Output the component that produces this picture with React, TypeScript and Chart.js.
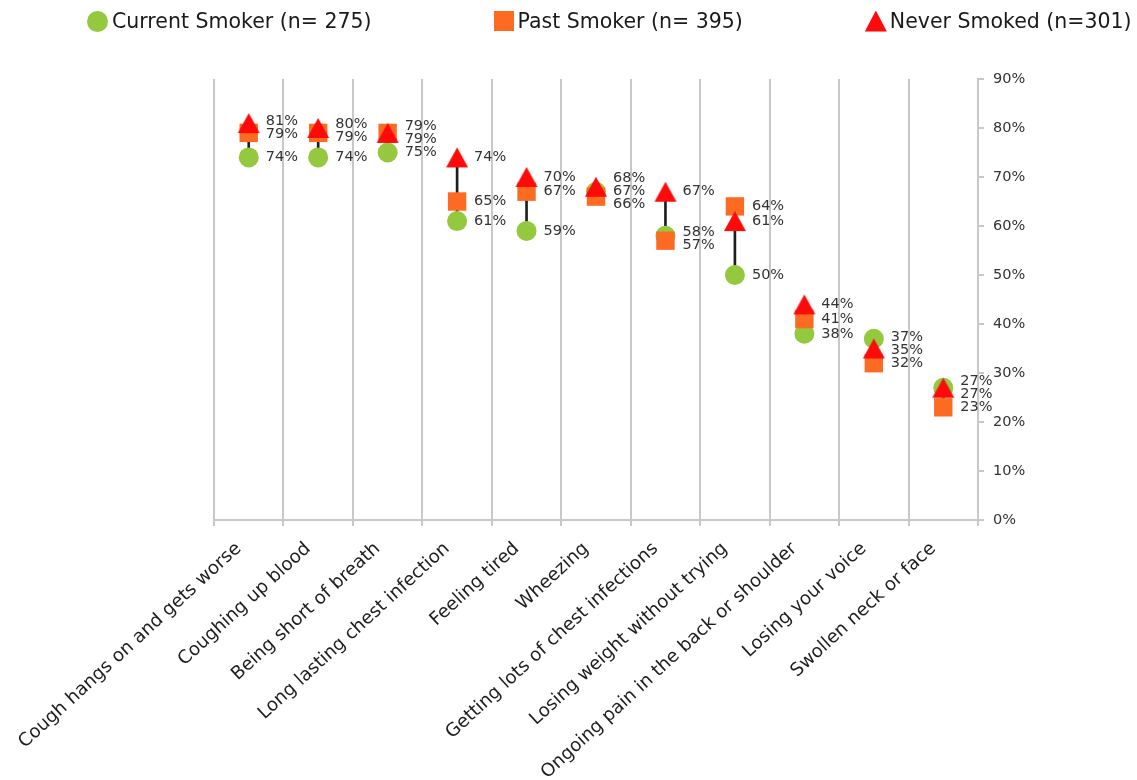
import React, { useEffect, useRef } from "react";
import { Chart, registerables } from "chart.js";

Chart.register(...registerables);

const categories = [
  "Cough hangs on and gets worse",
  "Coughing up blood",
  "Being short of breath",
  "Long lasting chest infection",
  "Feeling tired",
  "Wheezing",
  "Getting lots of chest infections",
  "Losing weight without trying",
  "Ongoing pain in the back or shoulder",
  "Losing your voice",
  "Swollen neck or face",
];

const currentSmoker = [74, 74, 75, 61, 59, 67, 58, 50, 38, 37, 27];
const pastSmoker = [79, 79, 79, 65, 67, 66, 57, 64, 41, 32, 23];
const neverSmoked = [81, 80, 79, 74, 70, 68, 67, 61, 44, 35, 27];

const seriesNames = ["Current Smoker (n= 275)", "Past Smoker (n= 395)", "Never Smoked (n=301)"];

const yMin = 0;
const yMax = 90;
const yStep = 10;

const GREEN = "#93c83f";
const ORANGE = "#fd6a22";
const RED = "#ff0a0a";
const GRID = "#c8c8c8";
const FONT = "DejaVu Sans";

function makeTriangle(color: string) {
  const c = document.createElement("canvas");
  c.width = 24;
  c.height = 22;
  const g = c.getContext("2d")!;
  g.fillStyle = color;
  g.beginPath();
  g.moveTo(12, 1);
  g.lineTo(23, 21);
  g.lineTo(1, 21);
  g.closePath();
  g.fill();
  return c;
}

const pointLabels = {
  id: "pointLabels",
  afterDatasetsDraw(chart: any) {
    const ctx = chart.ctx;
    const dsIdx = [1, 2, 3];
    const MIN = 13;
    ctx.save();
    ctx.font = `14.5px "${FONT}"`;
    ctx.fillStyle = "#333333";
    ctx.textAlign = "left";
    ctx.textBaseline = "middle";
    for (let i = 0; i < chart.data.labels.length; i++) {
      const items = dsIdx.map((d) => {
        const el = chart.getDatasetMeta(d).data[i];
        return { x: el.x, y: el.y, text: chart.data.datasets[d].data[i] + "%" };
      });
      items.sort((a, b) => a.y - b.y);
      const ys = items.map((it) => it.y);
      for (let iter = 0; iter < 60; iter++) {
        for (let k = 0; k < ys.length - 1; k++) {
          const gap = ys[k + 1] - ys[k];
          if (gap < MIN) {
            const dd = (MIN - gap) / 2;
            ys[k] -= dd;
            ys[k + 1] += dd;
          }
        }
      }
      items.forEach((it, k) => ctx.fillText(it.text, it.x + 17, ys[k]));
    }
    ctx.restore();
  },
};

export default function App() {
  const ref = useRef<HTMLCanvasElement | null>(null);

  useEffect(() => {
    if (!ref.current) return;
    const ranges = categories.map((_, i) => {
      const vals = [currentSmoker[i], pastSmoker[i], neverSmoked[i]];
      return [Math.min(...vals), Math.max(...vals)];
    });
    const chart = new Chart(ref.current, {
      type: "line",
      data: {
        labels: categories,
        datasets: [
          {
            type: "bar",
            label: "range",
            data: ranges as any,
            backgroundColor: "#1e1e1e",
            barThickness: 2,
            order: 3,
          } as any,
          {
            label: seriesNames[0],
            data: currentSmoker,
            showLine: false,
            pointStyle: "circle",
            pointRadius: 10,
            pointBackgroundColor: GREEN,
            pointBorderColor: GREEN,
            pointBorderWidth: 0,
            order: 2,
          },
          {
            label: seriesNames[1],
            data: pastSmoker,
            showLine: false,
            pointStyle: "rect",
            pointRadius: 13,
            pointBackgroundColor: ORANGE,
            pointBorderColor: ORANGE,
            pointBorderWidth: 0,
            order: 1,
          },
          {
            label: seriesNames[2],
            data: neverSmoked,
            showLine: false,
            pointStyle: makeTriangle(RED) as any,
            pointRadius: 12,
            pointBackgroundColor: RED,
            pointBorderColor: RED,
            pointBorderWidth: 0,
            order: 0,
          },
        ],
      },
      options: {
        animation: false,
        responsive: false,
        devicePixelRatio: 1,
        layout: { padding: { top: 79, left: 214, right: 109, bottom: 0 } },
        plugins: {
          legend: { display: false },
          tooltip: { enabled: false },
        },
        scales: {
          x: {
            type: "category",
            offset: true,
            grid: {
              offset: true,
              color: GRID,
              lineWidth: 2,
              tickLength: 6,
              drawOnChartArea: true,
            },
            border: { display: true, color: GRID, width: 2 },
            ticks: {
              autoSkip: false,
              maxRotation: 42.5,
              minRotation: 42.5,
              labelOffset: -10,
              padding: 12,
              color: "#1e1e1e",
              font: { family: FONT, size: 18.3 },
            },
            afterFit: (s: any) => {
              s.height = 260;
            },
          } as any,
          y: {
            position: "right",
            min: yMin,
            max: yMax,
            grid: { drawOnChartArea: false, color: GRID, lineWidth: 2, tickLength: 6 },
            border: { display: true, color: GRID, width: 2 },
            ticks: {
              stepSize: yStep,
              callback: (v: any) => v + "%",
              color: "#333333",
              padding: 9,
              font: { family: FONT, size: 14.5 },
            },
            afterFit: (s: any) => {
              s.width = 50;
            },
          } as any,
        },
      },
      plugins: [pointLabels],
    });
    return () => chart.destroy();
  }, []);

  const textStyle: React.CSSProperties = { marginLeft: 4 };
  return (
    <div
      style={{
        position: "fixed",
        left: 0,
        top: 0,
        width: 1137,
        height: 780,
        background: "#fff",
        overflow: "hidden",
      }}
    >
      <canvas ref={ref} width={1137} height={780} style={{ position: "absolute", left: 0, top: 0 }} />
      <div
        style={{
          position: "absolute",
          left: 87,
          top: 9,
          height: 24,
          display: "flex",
          alignItems: "center",
          gap: 122,
          fontFamily: `"${FONT}"`,
          fontSize: 20.5,
          color: "#1a1a1a",
          whiteSpace: "nowrap",
        }}
      >
        <div style={{ display: "flex", alignItems: "center" }}>
          <span style={{ display: "inline-block", width: 21, height: 21, borderRadius: "50%", background: GREEN }} />
          <span style={textStyle}>{seriesNames[0]}</span>
        </div>
        <div style={{ display: "flex", alignItems: "center" }}>
          <span style={{ display: "inline-block", width: 20, height: 20, background: ORANGE }} />
          <span style={textStyle}>{seriesNames[1]}</span>
        </div>
        <div style={{ display: "flex", alignItems: "center" }}>
          <span
            style={{
              display: "inline-block",
              width: 22,
              height: 21,
              background: RED,
              clipPath: "polygon(50% 0, 100% 100%, 0 100%)",
            }}
          />
          <span style={{ marginLeft: 3 }}>{seriesNames[2]}</span>
        </div>
      </div>
    </div>
  );
}
